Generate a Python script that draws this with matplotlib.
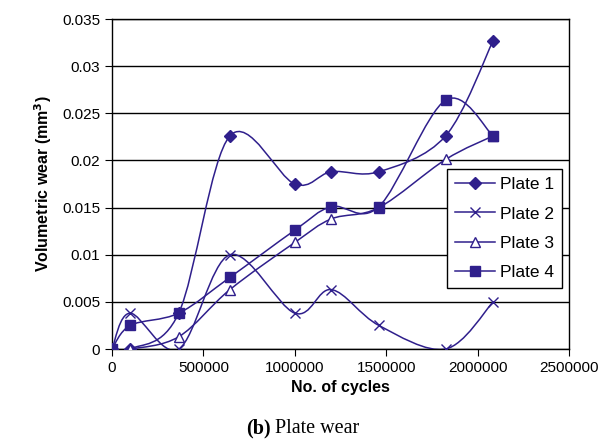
import matplotlib.pyplot as plt
import numpy as np
from matplotlib.path import Path
from matplotlib.patches import PathPatch

plt.rcParams['font.family'] = ['Liberation Sans', 'DejaVu Sans']

cycles = [0, 100000, 365000, 645000, 1000000, 1200000, 1460000, 1825000, 2085000]
plate1 = [0, 0, 0.0038, 0.0226, 0.0175, 0.0188, 0.0188, 0.0226, 0.0327]
plate2 = [0, 0.0038, 0, 0.0100, 0.0038, 0.0063, 0.0025, 0, 0.0050]
plate3 = [0, 0, 0.0013, 0.0063, 0.0113, 0.0138, 0.0150, 0.0201, 0.0226]
plate4 = [0, 0.0025, 0.0038, 0.0076, 0.0126, 0.0151, 0.0151, 0.0264, 0.0226]

col = '#2F1F8C'


def smooth_path(x, y):
    # excel-like smoothed line, catmull-rom as cubic bezier segments
    p = np.column_stack([x, y]).astype(float)
    n = len(p)
    verts = [p[0]]
    codes = [Path.MOVETO]
    for i in range(n - 1):
        p0 = p[i - 1] if i > 0 else p[i]
        p3 = p[i + 2] if i + 2 < n else p[i + 1]
        c1 = p[i] + (p[i + 1] - p0) / 6
        c2 = p[i + 1] - (p3 - p[i]) / 6
        verts += [c1, c2, p[i + 1]]
        codes += [Path.CURVE4] * 3
    return Path(verts, codes)


fig = plt.figure(figsize=(6.14, 4.41), dpi=100)
ax = fig.add_axes([0.1824, 0.2086, 0.7443, 0.7483])

series = [(plate1, 'Plate 1', 'D', 6, col), (plate2, 'Plate 2', 'x', 7.5, col),
          (plate3, 'Plate 3', '^', 6.5, 'white'), (plate4, 'Plate 4', 's', 6.5, col)]
for ys, lab, m, ms, fc in series:
    ax.add_patch(PathPatch(smooth_path(cycles, ys), fill=False, edgecolor=col, lw=1.1, zorder=3))
    # markers only, the curve is the patch above
    ax.plot(cycles, ys, ls='None', color=col, marker=m, ms=ms, mfc=fc, mec=col, zorder=4)

ax.set_xlim(0, 2500000)
ax.set_ylim(0, 0.035)
ax.set_xticks([0, 500000, 1000000, 1500000, 2000000, 2500000])
ax.set_xticklabels(['0', '500000', '1000000', '1500000', '2000000', '2500000'])
ax.set_yticks([0, 0.005, 0.01, 0.015, 0.02, 0.025, 0.03, 0.035])
ax.set_yticklabels(['0', '0.005', '0.01', '0.015', '0.02', '0.025', '0.03', '0.035'])
ax.tick_params(labelsize=11, direction='out', length=5, color='black')
ax.grid(axis='y', color='black', lw=1)
ax.set_axisbelow(True)
for s in ax.spines.values():
    s.set_color('black')
    s.set_linewidth(1)

ax.set_xlabel('No. of cycles', fontsize=11.5, fontweight='bold', labelpad=4)
ax.set_ylabel('Volumetric wear (mm$^\\mathbf{3}$)', fontsize=11.5, fontweight='bold', labelpad=6)

handles = []
for ys, lab, m, ms, fc in series:
    h, = ax.plot([], [], ls='-', lw=1.1, color=col, marker=m, ms=ms, mfc=fc, mec=col, label=lab)
    handles.append(h)
leg = ax.legend(handles=handles, loc='upper left', bbox_to_anchor=(0.733, 0.545),
                borderaxespad=0, fontsize=12.5, frameon=True, fancybox=False, edgecolor='black',
                borderpad=0.45, labelspacing=0.82, handlelength=2.3, handletextpad=0.3,
                framealpha=1)
leg.get_frame().set_linewidth(1)

fig.text(271 / 614, 0.018, '(b)', ha='right', fontsize=14.5, fontweight='bold', family='Liberation Serif')
fig.text(275 / 614, 0.018, 'Plate wear', ha='left', fontsize=14.5, family='Liberation Serif')

fig.savefig('out.png', dpi=100)
